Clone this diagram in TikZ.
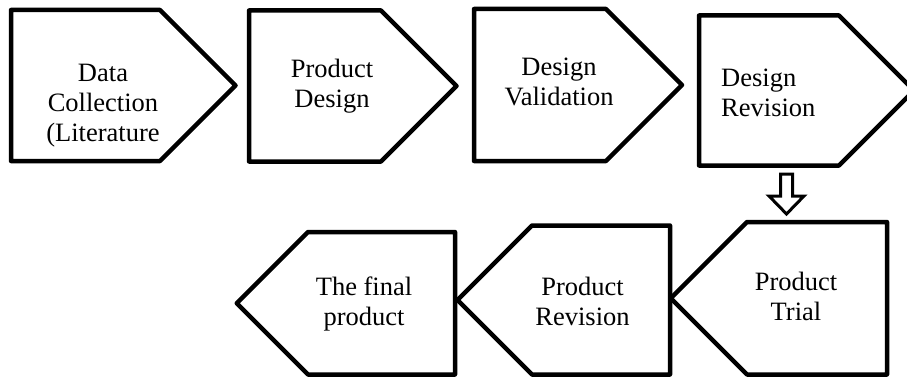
\documentclass[tikz,border=0pt]{standalone}
\usepackage{fontspec}
\setmainfont{Liberation Serif}
\begin{document}
\begin{tikzpicture}[x=1pt,y=-1pt]
\tikzset{
  shp/.style={draw=black, line width=4.5pt, line join=round, fill=white},
  lbl/.style={inner sep=0pt, anchor=base, font=\fontsize{26.5}{30}\selectfont},
  lbll/.style={lbl, anchor=base west},
  blk/.style={draw=black, line width=3pt, fill=white, line join=miter}
}
\useasboundingbox (0,0) rectangle (907,377);
\clip (0,0) rectangle (907,377);
\fill[white] (0,0) rectangle (907,377);
% top row (pointing right)
\draw[shp] (11,10) -- (160,10) -- (235.5,85.5) -- (160,161) -- (11,161) -- cycle;
\draw[shp] (249,10.5) -- (381,10.5) -- (456.5,86) -- (381,161.5) -- (249,161.5) -- cycle;
\draw[shp] (474,9) -- (606,9) -- (682,85) -- (606,161) -- (474,161) -- cycle;
\draw[shp] (699,15.5) -- (839,15.5) -- (914,90.5) -- (839,165.5) -- (699,165.5) -- cycle;
% bottom row (pointing left)
\draw[shp] (887,222) -- (747,222) -- (670.75,298.25) -- (747,374.5) -- (887,374.5) -- cycle;
\draw[shp] (670,225.5) -- (532,225.5) -- (457.5,300) -- (532,374.5) -- (670,374.5) -- cycle;
\draw[shp] (455,232) -- (308,232) -- (236.75,303.25) -- (308,374.5) -- (455,374.5) -- cycle;
% labels
\node[lbl] (t1) at (103,82) {\begin{tabular}[t]{@{}c@{}}Data\\Collection\\(Literature\end{tabular}};
\node[lbl] (t2) at (332,78) {\begin{tabular}[t]{@{}c@{}}Product\\Design\end{tabular}};
\node[lbl] (t3) at (559,76) {\begin{tabular}[t]{@{}c@{}}Design\\Validation\end{tabular}};
\node[lbll] (t4) at (721,87) {\begin{tabular}[t]{@{}l@{}}Design\\Revision\end{tabular}};
\node[lbl] (t5) at (796,290) {\begin{tabular}[t]{@{}c@{}}Product\\Trial\end{tabular}};
\node[lbl] (t6) at (582.5,295) {\begin{tabular}[t]{@{}c@{}}Product\\Revision\end{tabular}};
\node[lbl] (t7) at (364,295) {\begin{tabular}[t]{@{}c@{}}The final\\product\end{tabular}};
% block arrow from Design Revision to Product Trial
\coordinate (a1) at (786.5,174);
\coordinate (a2) at (786.5,214);
\draw[blk] (a1) ++(-6,0) -- ++(12,0) -- ++(0,22) -- ++(11.5,0) -- (a2) -- ++(-17.5,-18) -- ++(11.5,0) -- cycle;
\end{tikzpicture}
\end{document}
